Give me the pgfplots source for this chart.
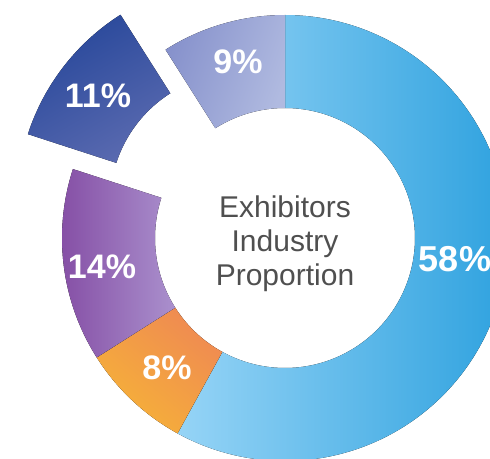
\documentclass[border=0pt]{standalone}
\usepackage{pgfplots}
\pgfplotsset{compat=1.18}
\usepgfplotslibrary{fillbetween}
\usepackage{fontspec}
\setmainfont{Liberation Sans}

\definecolor{blueL}{HTML}{96D4F6}
\definecolor{blueR}{HTML}{2FA2DF}
\definecolor{orgB}{HTML}{F6B238}
\definecolor{orgT}{HTML}{EF8A52}
\definecolor{purL}{HTML}{8650A6}
\definecolor{purR}{HTML}{AA90CD}
\definecolor{dbL}{HTML}{27479A}
\definecolor{dbR}{HTML}{5A6AB0}
\definecolor{lvL}{HTML}{8792CC}
\definecolor{lvR}{HTML}{B0BAE0}
\definecolor{midtxt}{HTML}{4F4F4F}

% shares (percent), clockwise from the top
\def\vA{58}\def\vB{8}\def\vC{14}\def\vD{11}\def\vE{9}
\pgfmathsetmacro\aA{90}
\pgfmathsetmacro\aB{\aA-3.6*\vA}
\pgfmathsetmacro\aC{\aB-3.6*\vB}
\pgfmathsetmacro\aD{\aC-3.6*\vC}
\pgfmathsetmacro\aE{\aD-3.6*\vD}
\pgfmathsetmacro\aF{\aE-3.6*\vE}
\pgfmathsetmacro\mD{(\aD+\aE)/2}
\pgfmathsetmacro\exX{285+57*cos(\mD)}
\pgfmathsetmacro\exY{220+57*sin(\mD)}

\newcommand\sector[6]{%
  \addplot[draw=none, name path=o#1, domain=#2:#3, samples=120] ({#4+223*cos(x)},{#5+223*sin(x)});
  \addplot[draw=none, name path=i#1, domain=#2:#3, samples=120] ({#4+130*cos(x)},{#5+130*sin(x)});
  \addplot[draw=none, #6] fill between[of=o#1 and i#1];
}

\begin{document}
\begin{tikzpicture}
\begin{axis}[
  scale only axis, width=490pt, height=458pt,
  xmin=0, xmax=490, ymin=0, ymax=458,
  hide axis, clip=true,
]
\sector{A}{\aB}{\aA}{285}{220}{left color=blueL, right color=blueR}
\sector{B}{\aC}{\aB}{285}{220}{top color=orgT, bottom color=orgB, shading angle=-40}
\sector{C}{\aD}{\aC}{285}{220}{left color=purL, right color=purR}
\sector{D}{\aE}{\aD}{\exX}{\exY}{top color=dbL, bottom color=dbR, shading angle=30}
\sector{E}{\aF}{\aE}{285}{220}{left color=lvL, right color=lvR, shading angle=70}

\begin{scope}[every node/.style={text=white, font=\bfseries\fontsize{34}{34}\selectfont}]
\node at (axis cs:238,396) {9\%};
\node at (axis cs:98,362) {11\%};
\node at (axis cs:102,191) {14\%};
\node at (axis cs:167,90) {8\%};
\node[font=\bfseries\fontsize{36}{36}\selectfont] at (axis cs:455,199) {58\%};
\end{scope}
\node[text=midtxt, align=center, font=\fontsize{30}{34}\selectfont] at (axis cs:285,214)
  {Exhibitors\\Industry\\Proportion};
\end{axis}
\pgfresetboundingbox
\useasboundingbox (current axis.south west) rectangle (current axis.north east);
\end{tikzpicture}
\end{document}
